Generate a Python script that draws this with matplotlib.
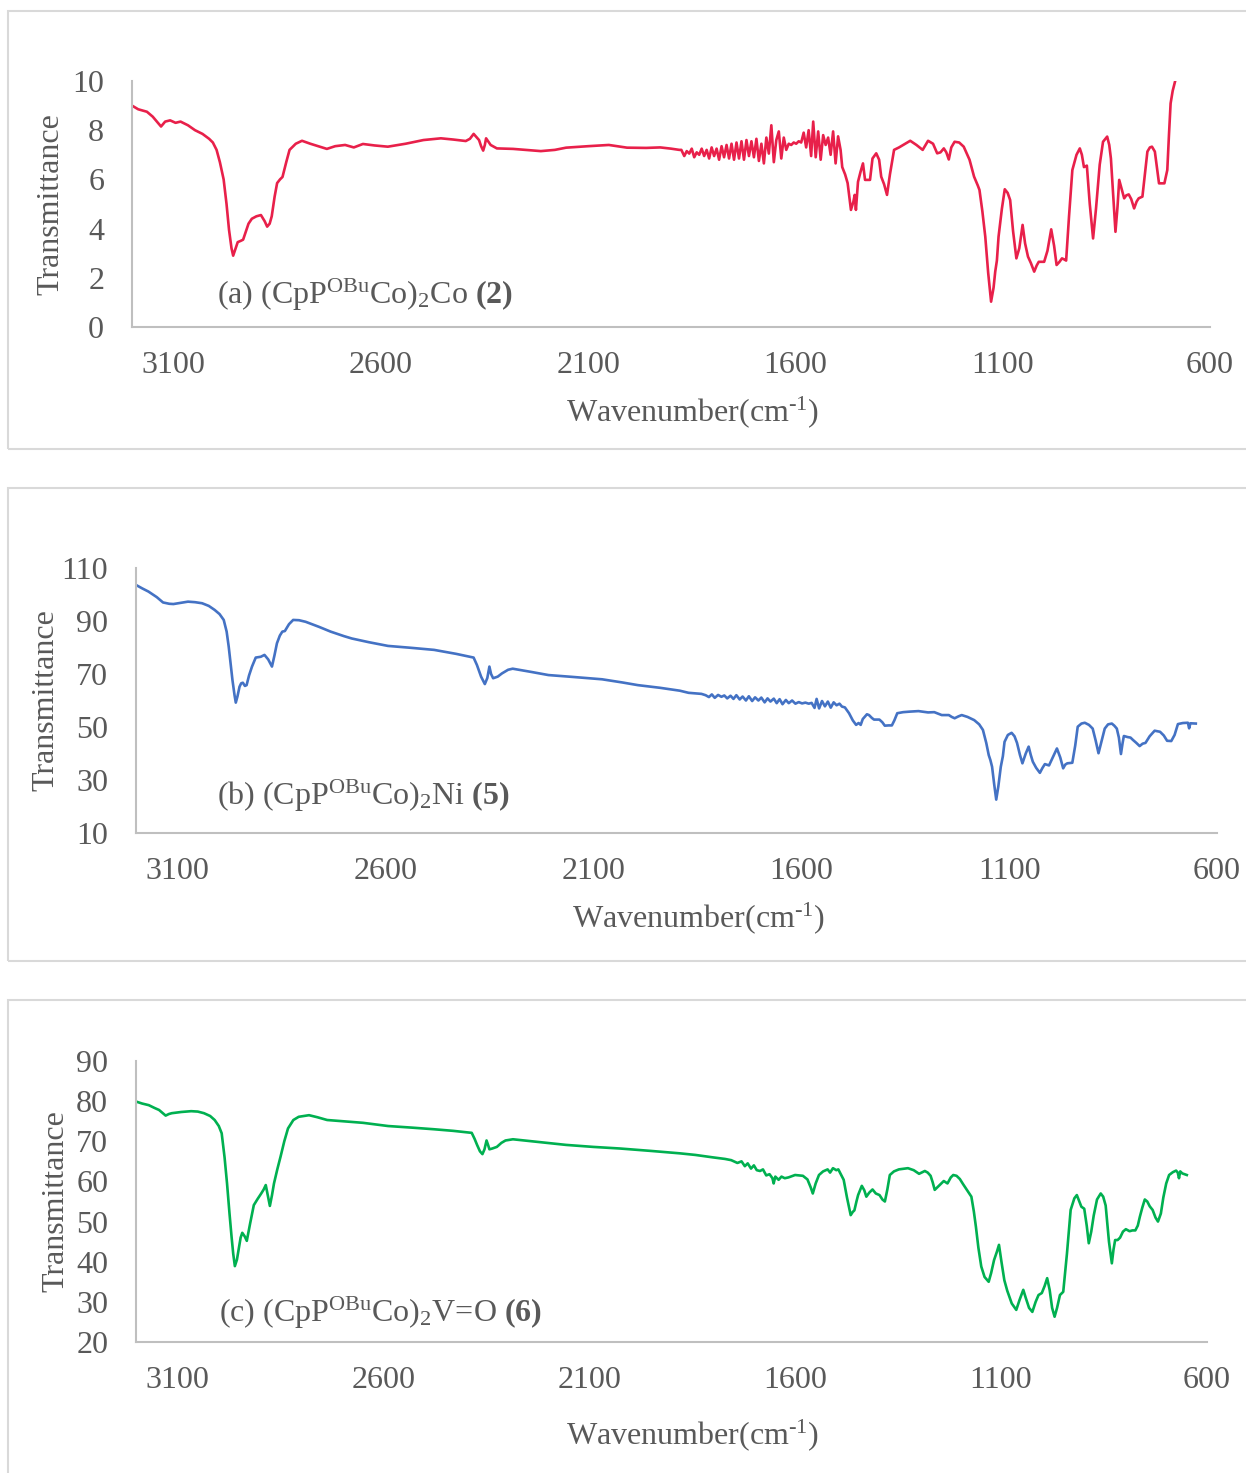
import matplotlib
matplotlib.use('Agg')
import matplotlib.pyplot as plt
from matplotlib.patches import Rectangle

plt.rcParams['font.family'] = ['Liberation Serif', 'DejaVu Serif']
plt.rcParams['mathtext.fontset'] = 'custom'
plt.rcParams['mathtext.rm'] = 'Liberation Serif'
plt.rcParams['mathtext.it'] = 'Liberation Serif:italic'
plt.rcParams['mathtext.bf'] = 'Liberation Serif:bold'

# IR spectra: (wavenumber cm-1, transmittance)
ir_a = [
    (3200, 9.0), (3185, 8.85), (3164, 8.75), (3150, 8.55), (3130, 8.15), (3120, 8.35), (3108, 8.4),
    (3095, 8.3), (3083, 8.35), (3065, 8.2), (3048, 8.0), (3030, 7.85), (3014, 7.65), (3005, 7.5),
    (2996, 7.2), (2988, 6.7), (2979, 6.0), (2972, 5.0), (2966, 3.95), (2960, 3.2), (2956, 2.9),
    (2950, 3.2), (2945, 3.45), (2938, 3.5), (2932, 3.55), (2925, 3.9), (2919, 4.2), (2911, 4.4),
    (2900, 4.5), (2889, 4.55), (2880, 4.3), (2874, 4.08), (2868, 4.2), (2863, 4.5), (2856, 5.3),
    (2850, 5.85), (2843, 6.0), (2837, 6.1), (2828, 6.7), (2820, 7.2), (2805, 7.45), (2790, 7.57),
    (2770, 7.45), (2747, 7.33), (2730, 7.24), (2710, 7.35), (2686, 7.4), (2665, 7.3), (2643, 7.44),
    (2615, 7.38), (2583, 7.33), (2540, 7.45), (2497, 7.6), (2455, 7.67), (2425, 7.62), (2395, 7.56),
    (2385, 7.65), (2376, 7.85), (2368, 7.7), (2363, 7.6), (2358, 7.35), (2353, 7.17), (2349, 7.4),
    (2346, 7.67), (2335, 7.4), (2320, 7.26), (2281, 7.24), (2250, 7.2), (2214, 7.15), (2180, 7.2),
    (2153, 7.29), (2100, 7.35), (2050, 7.4), (2006, 7.29), (1960, 7.28), (1926, 7.3), (1900, 7.25),
    (1880, 7.2), (1875, 7.2), (1868, 6.95), (1862, 7.15), (1856, 7.05), (1850, 7.25), (1844, 6.9),
    (1838, 7.1), (1832, 7.0), (1826, 7.25), (1820, 6.95), (1814, 7.2), (1808, 6.85), (1802, 7.3),
    (1796, 6.95), (1790, 7.25), (1784, 6.8), (1778, 7.35), (1772, 6.9), (1766, 7.4), (1760, 6.85),
    (1754, 7.45), (1748, 6.8), (1742, 7.5), (1736, 6.85), (1730, 7.55), (1724, 6.8), (1718, 7.6),
    (1712, 6.95), (1706, 7.55), (1700, 6.9), (1694, 7.65), (1688, 6.75), (1682, 7.45), (1676, 6.65),
    (1670, 7.7), (1664, 7.05), (1658, 8.2), (1652, 6.7), (1646, 7.6), (1640, 7.95), (1634, 6.85),
    (1628, 7.7), (1622, 7.2), (1616, 7.45), (1610, 7.4), (1604, 7.5), (1598, 7.45), (1592, 7.55),
    (1586, 7.5), (1580, 7.9), (1574, 7.3), (1568, 8.0), (1562, 6.95), (1557, 8.35), (1551, 6.9),
    (1545, 7.95), (1539, 6.8), (1533, 7.8), (1527, 7.4), (1521, 7.7), (1515, 7.0), (1509, 7.95),
    (1503, 6.65), (1497, 7.75), (1491, 7.2), (1487, 6.5), (1480, 6.2), (1474, 5.85), (1466, 4.76),
    (1460, 5.1), (1457, 5.37), (1454, 4.76), (1449, 5.9), (1443, 6.3), (1437, 6.65), (1432, 5.98),
    (1420, 5.98), (1414, 6.85), (1405, 7.06), (1398, 6.8), (1393, 6.11), (1386, 5.8), (1379, 5.37),
    (1372, 6.2), (1362, 7.2), (1350, 7.3), (1340, 7.4), (1323, 7.57), (1308, 7.4), (1293, 7.2),
    (1280, 7.57), (1268, 7.45), (1258, 7.06), (1250, 7.1), (1242, 7.26), (1236, 7.1), (1230, 6.81),
    (1224, 7.3), (1216, 7.53), (1205, 7.5), (1194, 7.33), (1180, 6.8), (1169, 6.11), (1160, 5.75),
    (1156, 5.57), (1149, 4.7), (1142, 3.67), (1135, 2.2), (1128, 1.03), (1122, 1.6), (1118, 2.25),
    (1114, 2.7), (1110, 3.67), (1102, 4.8), (1095, 5.6), (1088, 5.45), (1082, 5.16), (1075, 3.9),
    (1067, 2.79), (1060, 3.2), (1052, 4.15), (1046, 3.4), (1039, 2.86), (1032, 2.6), (1024, 2.25),
    (1018, 2.5), (1013, 2.65), (1006, 2.65), (1000, 2.65), (992, 3.1), (983, 3.97), (976, 3.3),
    (970, 2.52), (963, 2.65), (957, 2.79), (952, 2.75), (947, 2.7), (940, 4.5), (932, 6.38),
    (922, 7.0), (914, 7.26), (909, 7.0), (904, 6.5), (897, 6.56), (890, 5.0), (882, 3.6),
    (875, 4.8), (866, 6.6), (858, 7.53), (848, 7.74), (843, 7.4), (839, 6.85), (834, 5.5),
    (828, 3.87), (823, 4.9), (819, 5.98), (813, 5.6), (807, 5.23), (802, 5.35), (796, 5.39),
    (790, 5.2), (783, 4.82), (777, 5.1), (772, 5.23), (763, 5.3), (757, 6.2), (751, 7.13),
    (745, 7.3), (740, 7.33), (733, 7.13), (728, 6.5), (723, 5.84), (716, 5.84), (710, 5.84),
    (703, 6.38), (699, 7.8), (695, 9.09), (690, 9.6), (684, 10.0),
]

ir_b = [
    (3200, 103.6), (3185, 102.3), (3170, 101.1), (3150, 99.0), (3135, 97.0), (3120, 96.5),
    (3110, 96.4), (3090, 96.9), (3075, 97.3), (3058, 97.1), (3041, 96.7), (3025, 95.7),
    (3011, 94.2), (2999, 92.6), (2989, 90.4), (2982, 86.0), (2977, 80.3), (2972, 73.5),
    (2968, 67.7), (2963, 62.0), (2960, 59.2), (2956, 61.5), (2951, 65.2), (2947, 66.5),
    (2943, 66.7), (2938, 65.5), (2934, 65.8), (2928, 69.5), (2921, 72.8), (2912, 76.2),
    (2900, 76.5), (2891, 77.2), (2882, 75.5), (2873, 72.8), (2867, 77.0), (2861, 81.6),
    (2854, 84.5), (2848, 86.0), (2842, 86.2), (2832, 88.8), (2822, 90.4), (2808, 90.3),
    (2792, 89.7), (2760, 87.8), (2732, 86.0), (2700, 84.3), (2681, 83.4), (2640, 82.0),
    (2594, 80.6), (2540, 79.9), (2483, 79.1), (2430, 77.6), (2388, 76.2), (2380, 73.4),
    (2370, 69.0), (2361, 66.2), (2355, 68.5), (2350, 72.8), (2346, 70.0), (2341, 68.4),
    (2330, 69.0), (2320, 70.2), (2305, 71.6), (2294, 72.0), (2250, 70.8), (2208, 69.6),
    (2150, 68.9), (2079, 68.0), (2030, 66.8), (1993, 65.8), (1940, 64.8), (1892, 63.7),
    (1871, 62.9), (1840, 62.5), (1830, 62.0), (1822, 61.3), (1815, 62.3), (1808, 61.0),
    (1800, 62.1), (1792, 61.4), (1785, 61.9), (1778, 60.8), (1770, 61.8), (1763, 60.6),
    (1756, 62.0), (1748, 60.4), (1741, 61.5), (1733, 60.0), (1726, 61.6), (1718, 59.8),
    (1711, 61.2), (1703, 60.0), (1696, 61.1), (1688, 59.3), (1681, 60.8), (1674, 59.6),
    (1666, 60.7), (1659, 59.0), (1652, 60.5), (1645, 58.6), (1637, 60.2), (1630, 59.0),
    (1622, 60.0), (1614, 58.8), (1606, 59.4), (1598, 58.9), (1590, 59.2), (1582, 58.8),
    (1575, 59.1), (1568, 57.2), (1563, 60.6), (1557, 57.0), (1550, 59.8), (1543, 57.8),
    (1536, 59.6), (1529, 57.3), (1522, 59.3), (1515, 58.2), (1508, 58.8), (1502, 57.7),
    (1495, 57.4), (1485, 55.2), (1476, 52.5), (1468, 50.8), (1462, 51.5), (1457, 50.8),
    (1452, 53.0), (1447, 53.9), (1442, 54.8), (1437, 54.5), (1430, 53.4), (1425, 52.8),
    (1412, 52.8), (1405, 51.8), (1399, 50.5), (1390, 50.6), (1382, 50.6), (1376, 52.5),
    (1369, 55.2), (1355, 55.6), (1339, 55.8), (1318, 56.0), (1295, 55.5), (1280, 55.6),
    (1262, 54.5), (1245, 54.5), (1238, 53.8), (1231, 53.3), (1222, 54.0), (1214, 54.5),
    (1200, 53.8), (1184, 52.6), (1172, 51.0), (1163, 48.9), (1155, 44.0), (1149, 39.4),
    (1145, 37.5), (1141, 35.0), (1136, 28.5), (1131, 22.6), (1126, 27.5), (1120, 35.0),
    (1115, 39.0), (1111, 44.4), (1103, 47.0), (1094, 47.8), (1087, 46.5), (1081, 44.0),
    (1074, 39.5), (1068, 36.3), (1060, 40.0), (1053, 42.6), (1048, 39.5), (1043, 36.9),
    (1035, 34.6), (1026, 32.7), (1020, 34.5), (1014, 36.0), (1004, 35.5), (995, 38.5),
    (985, 41.9), (977, 38.5), (970, 34.4), (965, 35.8), (960, 36.3), (948, 36.5),
    (941, 43.0), (935, 50.1), (926, 51.3), (918, 51.6), (908, 50.8), (899, 49.4),
    (892, 45.0), (885, 40.1), (878, 44.5), (870, 49.4), (862, 51.0), (853, 51.3),
    (847, 50.5), (841, 49.4), (836, 46.0), (831, 39.8), (827, 44.0), (824, 46.6),
    (815, 46.2), (808, 46.0), (802, 45.1), (794, 44.0), (786, 42.8), (779, 43.7),
    (772, 44.0), (762, 46.5), (750, 48.6), (737, 48.2), (728, 46.8), (720, 44.8),
    (710, 44.7), (702, 47.0), (694, 51.1), (682, 51.5), (670, 51.6), (667, 49.5),
    (664, 51.4), (651, 51.3),
]

ir_c = [
    (3200, 79.9), (3185, 79.4), (3169, 79.0), (3155, 78.3), (3144, 77.8), (3135, 77.0),
    (3128, 76.4), (3120, 76.8), (3113, 77.0), (3090, 77.3), (3066, 77.5), (3050, 77.4),
    (3035, 77.0), (3020, 76.3), (3009, 75.3), (2999, 73.8), (2992, 72.0), (2985, 66.0),
    (2979, 59.5), (2973, 52.0), (2968, 46.2), (2964, 42.0), (2960, 38.9), (2955, 40.5),
    (2951, 42.9), (2946, 46.0), (2942, 47.2), (2936, 46.3), (2931, 45.2), (2923, 49.5),
    (2914, 54.1), (2905, 55.6), (2896, 57.0), (2890, 58.0), (2885, 59.1), (2880, 56.5),
    (2875, 53.9), (2870, 56.5), (2865, 59.5), (2857, 63.0), (2849, 66.2), (2840, 70.0),
    (2831, 73.2), (2818, 75.3), (2805, 76.1), (2780, 76.5), (2760, 76.0), (2736, 75.3),
    (2700, 75.0), (2649, 74.6), (2588, 73.8), (2530, 73.4), (2477, 73.0), (2430, 72.6),
    (2385, 72.1), (2378, 70.6), (2372, 69.1), (2365, 67.5), (2359, 66.8), (2354, 68.0),
    (2349, 70.2), (2345, 69.0), (2342, 68.0), (2335, 68.2), (2324, 68.6), (2313, 69.6),
    (2303, 70.2), (2285, 70.5), (2220, 69.8), (2156, 69.1), (2090, 68.6), (2025, 68.2),
    (1950, 67.6), (1880, 67.0), (1842, 66.6), (1800, 66.0), (1770, 65.6), (1755, 65.3),
    (1740, 64.6), (1730, 65.0), (1722, 63.8), (1715, 64.5), (1707, 63.2), (1700, 64.0),
    (1693, 62.8), (1685, 62.6), (1678, 63.0), (1670, 61.5), (1662, 61.8), (1655, 60.8),
    (1652, 59.5), (1648, 61.2), (1640, 60.4), (1633, 61.2), (1625, 60.8), (1616, 61.0),
    (1600, 61.6), (1581, 61.4), (1570, 60.5), (1562, 58.5), (1557, 57.0), (1550, 59.5),
    (1542, 61.6), (1532, 62.5), (1521, 63.0), (1515, 62.2), (1508, 63.3), (1500, 62.8),
    (1495, 63.0), (1482, 60.4), (1474, 56.0), (1465, 51.6), (1460, 52.4), (1456, 52.8),
    (1451, 55.0), (1447, 56.6), (1438, 58.9), (1432, 57.8), (1427, 56.2), (1420, 57.2),
    (1412, 58.0), (1404, 57.0), (1395, 56.6), (1388, 55.5), (1382, 55.0), (1376, 58.0),
    (1370, 61.6), (1360, 62.5), (1348, 63.0), (1326, 63.3), (1312, 62.8), (1299, 61.9),
    (1285, 62.6), (1278, 62.2), (1271, 61.4), (1266, 59.8), (1261, 57.9), (1250, 59.0),
    (1239, 60.1), (1230, 59.5), (1222, 61.0), (1216, 61.6), (1208, 61.4), (1200, 60.6),
    (1192, 59.3), (1183, 57.9), (1172, 56.2), (1166, 52.5), (1161, 48.7), (1155, 43.5),
    (1148, 38.8), (1140, 36.2), (1130, 35.0), (1124, 37.2), (1117, 40.4), (1110, 42.5),
    (1105, 44.2), (1099, 40.0), (1092, 35.4), (1085, 32.8), (1074, 29.6), (1063, 28.0),
    (1055, 30.5), (1046, 33.0), (1040, 31.0), (1032, 28.5), (1024, 27.5), (1016, 30.0),
    (1009, 31.7), (1001, 32.2), (994, 34.0), (988, 35.9), (982, 33.0), (976, 28.5),
    (970, 26.3), (964, 28.5), (957, 31.7), (949, 32.5), (940, 42.0), (931, 52.9),
    (922, 55.8), (916, 56.6), (910, 55.0), (905, 53.7), (898, 53.2), (892, 49.0),
    (887, 44.6), (881, 47.5), (875, 51.5), (867, 55.5), (858, 57.0), (852, 56.2),
    (846, 54.0), (838, 45.0), (831, 39.6), (827, 43.0), (823, 45.4), (817, 45.4),
    (811, 46.0), (804, 47.5), (797, 48.1), (788, 47.6), (781, 47.8), (774, 47.8),
    (768, 49.0), (763, 51.2), (757, 53.5), (751, 55.5), (745, 55.0), (739, 53.8),
    (732, 52.9), (725, 51.0), (719, 50.0), (712, 52.0), (706, 56.0), (699, 59.5),
    (692, 61.6), (683, 62.3), (675, 62.7), (671, 62.2), (668, 60.8), (665, 62.5),
    (660, 62.0), (649, 61.6),
]

x_ticks = [3100, 2600, 2100, 1600, 1100, 600]
labels = [r'(a) (CpP$^{\mathrm{OBu}}$Co)$_{2}$Co $\mathbf{(2)}$',
          r'(b) (CpP$^{\mathrm{OBu}}$Co)$_{2}$Ni $\mathbf{(5)}$',
          r'(c) (CpP$^{\mathrm{OBu}}$Co)$_{2}$V=O $\mathbf{(6)}$']
colors = ['#E8204A', '#4472C4', '#00B050']
y_ranges = [(0, 10, 2), (10, 110, 20), (20, 90, 10)]

W, H = 1246, 1473
fig = plt.figure(figsize=(W / 100, H / 100), dpi=100)

# pixel boxes (left, top, right, bottom) of each plot area and panel frame
plot_px = [(132, 81, 1210, 327), (136, 568, 1217, 833), (136, 1061, 1207, 1342)]
frame_px = [(8, 11, 1260, 449), (8, 488, 1260, 961), (8, 1000, 1260, 1490)]
label_pos = [(0.079, 0.095), (0.075, 0.105), (0.0775, 0.07)]
ylab_x = [-0.062, -0.070, -0.061]
xlab_y = [-0.274, -0.253, -0.267]

grey = '#595959'
fs = 23

for i, spec in enumerate([ir_a, ir_b, ir_c]):
    fl, ft, fr, fb = frame_px[i]
    fig.add_artist(Rectangle((fl / W, 1 - fb / H), (fr - fl) / W, (fb - ft) / H,
                             transform=fig.transFigure, fill=False,
                             edgecolor='#D9D9D9', lw=1.5))
    l, t, r, b = plot_px[i]
    ax = fig.add_axes([l / W, 1 - b / H, (r - l) / W, (b - t) / H])
    wn = [p[0] for p in spec]
    tr = [p[1] for p in spec]
    ax.plot(wn, tr, color=colors[i], lw=1.9)
    ax.set_xlim(3200, 600)
    lo, hi, step = y_ranges[i]
    ax.set_ylim(lo, hi)
    ax.set_yticks(list(range(lo, hi + 1, step)))
    ax.set_xticks(x_ticks)
    for s in ['top', 'right']:
        ax.spines[s].set_visible(False)
    for s in ['left', 'bottom']:
        ax.spines[s].set_color('#BFBFBF')
        ax.spines[s].set_linewidth(1.5)
    ax.tick_params(axis='y', length=0, pad=20, labelsize=fs, labelcolor=grey)
    ax.tick_params(axis='x', length=0, pad=17, labelsize=fs, labelcolor=grey)
    ax.set_ylabel('Transmittance', fontsize=fs, color=grey)
    ax.yaxis.set_label_coords(ylab_x[i], 0.5)
    ax.set_xlabel(r'Wavenumber(cm$^{\text{-}1}$)', fontsize=fs, color=grey)
    ax.xaxis.set_label_coords(0.52, xlab_y[i])
    ax.text(label_pos[i][0], label_pos[i][1], labels[i], transform=ax.transAxes,
            fontsize=fs, color=grey, ha='left', va='baseline')

fig.savefig('out.png', dpi=100)
